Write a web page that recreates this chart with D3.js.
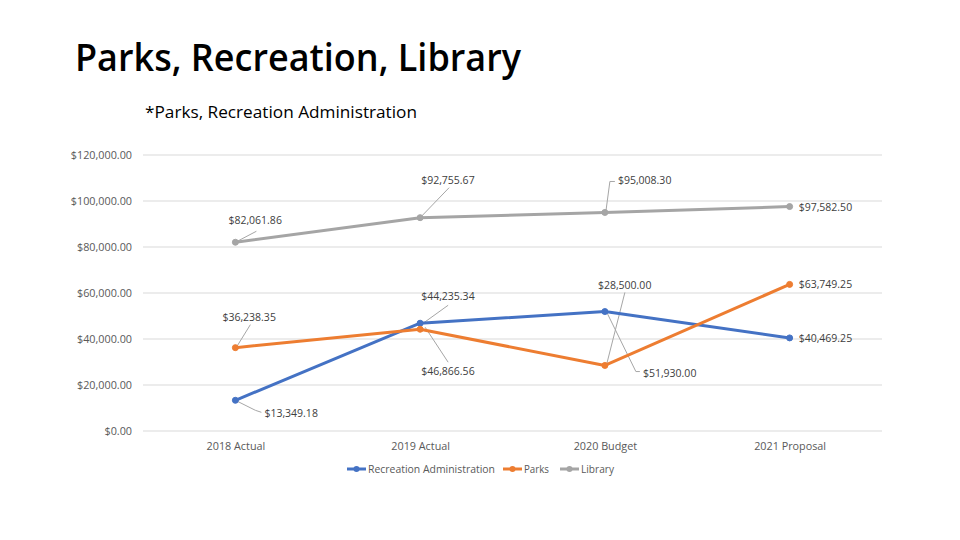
<!DOCTYPE html>
<html>
<head>
<meta charset="utf-8">
<script src="https://cdn.jsdelivr.net/npm/d3@7"></script>
<style>
  html, body { margin: 0; padding: 0; background: #fff; }
  svg { display: block; font-family: "Open Sans", "Noto Sans", sans-serif; }
</style>
</head>
<body>
<svg id="chart" width="960" height="540"></svg>
<script>
// ---- data ----
const categories = ["2018 Actual", "2019 Actual", "2020 Budget", "2021 Proposal"];
const seriesNames = ["Recreation Administration", "Parks", "Library"];
const recreationAdmin = [13349.18, 46866.56, 51930.00, 40469.25];
const parks = [36238.35, 44235.34, 28500.00, 63749.25];
const library = [82061.86, 92755.67, 95008.30, 97582.50];
const yTicks = [0, 20000, 40000, 60000, 80000, 100000, 120000];

// ---- styles / layout (not data) ----
const colors = ["#4472C4", "#ED7D31", "#A5A5A5"];
// label placement relative to point: [dx, dy(baseline), leader path points relative to point]
const labelLayout = [
  [ [29, 17, [[2,1],[20,10],[26,12]]], [1, 52, [[5,4],[28,39]]], [38, 65, [[2,1],[31,60],[35,60]]], [9, 4, null] ],
  [ [-13, -27, [[2,-2],[15,-23]]], [1, -29, [[3,-6],[28,-24]]], [-7, -76, [[2,-2],[20,-73]]], [9, 4, null] ],
  [ [-7, -18, [[2,-1],[21,-11]]], [1, -34, [[2,-2],[29,-30]]], [13, -28.5, [[1,-1],[5,-31],[10,-31]]], [9, 4, null] ]
];

const svg = d3.select("#chart");
const fmt = d3.format("$,.2f");

// Title
svg.append("text").attr("x", 75).attr("y", 71)
  .attr("font-size", 37).attr("font-weight", 600).attr("fill", "#000")
  .attr("textLength", 446).attr("lengthAdjust", "spacingAndGlyphs")
  .text("Parks, Recreation, Library");
svg.append("text").attr("x", 145).attr("y", 118)
  .attr("font-size", 17).attr("fill", "#000")
  .attr("textLength", 272).attr("lengthAdjust", "spacingAndGlyphs")
  .text("*Parks, Recreation Administration");

const x = d3.scalePoint().domain(categories).range([143, 882]).padding(0.5);
const y = d3.scaleLinear().domain([0, 120000]).range([431, 155]);

// Gridlines
svg.append("g").selectAll("line").data(yTicks).join("line")
  .attr("x1", 143).attr("x2", 882)
  .attr("y1", d => y(d)).attr("y2", d => y(d))
  .attr("stroke", "#D9D9D9").attr("stroke-width", 1);

// Y axis
const yAxis = svg.append("g").attr("transform", "translate(132,0)")
  .call(d3.axisLeft(y).tickValues(yTicks).tickFormat(fmt).tickSize(0).tickPadding(0));
yAxis.select(".domain").remove();
yAxis.selectAll("text").attr("font-size", 10.8).attr("fill", "#595959")
  .attr("font-family", "'Open Sans', sans-serif");

// X axis
const xAxis = svg.append("g").attr("transform", "translate(0,432)")
  .call(d3.axisBottom(x).tickSize(0).tickPadding(10));
xAxis.select(".domain").remove();
xAxis.selectAll("text").attr("font-size", 10.8).attr("fill", "#595959")
  .attr("font-family", "'Open Sans', sans-serif");

const allSeries = [recreationAdmin, parks, library];
const line = d3.line().x((d, i) => x(categories[i])).y(d => y(d));

// Leader lines
allSeries.forEach((vals, s) => {
  vals.forEach((v, i) => {
    const px = x(categories[i]), py = y(v);
    const leader = labelLayout[s][i][2];
    if (leader) {
      svg.append("polyline")
        .attr("points", leader.map(p => (px + p[0]) + "," + (py + p[1])).join(" "))
        .attr("fill", "none").attr("stroke", "#A6A6A6").attr("stroke-width", 1);
    }
  });
});

// Lines
allSeries.forEach((vals, s) => {
  svg.append("path").datum(vals)
    .attr("d", line).attr("fill", "none")
    .attr("stroke", colors[s]).attr("stroke-width", 3)
    .attr("stroke-linejoin", "round").attr("stroke-linecap", "round");
  svg.append("g").selectAll("circle").data(vals).join("circle")
    .attr("cx", (d, i) => x(categories[i])).attr("cy", d => y(d))
    .attr("r", 3).attr("fill", colors[s]).attr("stroke", colors[s]);
});

// Data labels
allSeries.forEach((vals, s) => {
  vals.forEach((v, i) => {
    const px = x(categories[i]), py = y(v);
    const [dx, dy] = labelLayout[s][i];
    svg.append("text").attr("x", px + dx).attr("y", py + dy)
      .attr("font-size", 10.5).attr("fill", "#404040")
      .text(fmt(v));
  });
});

// Legend
const legendX = [347, 503, 560];
const legendTextLen = [127, 25, 33];
const legend = svg.append("g");
seriesNames.forEach((name, s) => {
  const g = legend.append("g").attr("transform", `translate(${legendX[s]},469)`);
  g.append("line").attr("x1", 0).attr("x2", 19).attr("y1", 0).attr("y2", 0)
    .attr("stroke", colors[s]).attr("stroke-width", 3);
  g.append("circle").attr("cx", 9.5).attr("cy", 0).attr("r", 3).attr("fill", colors[s]);
  g.append("text").attr("x", 21).attr("y", 4).attr("font-size", 10.5).attr("fill", "#595959")
    .attr("textLength", legendTextLen[s]).attr("lengthAdjust", "spacingAndGlyphs")
    .text(name);
});
</script>
</body>
</html>
